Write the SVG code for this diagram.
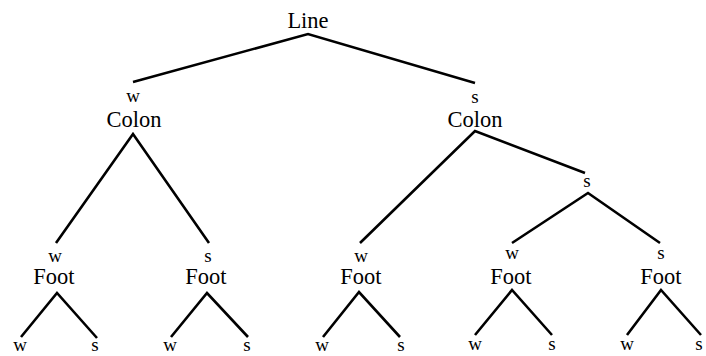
<svg xmlns="http://www.w3.org/2000/svg" width="706" height="356" viewBox="0 0 706 356">
  <style>
    .cat { font-family: "Liberation Serif", "Times New Roman", serif; font-size: 22.5px; fill: #000; text-anchor: middle; }
    .lab { font-family: "Liberation Serif", "Times New Roman", serif; font-size: 19px; fill: #000; text-anchor: middle; }
    .edge { stroke: #000; stroke-width: 2.6; fill: none; stroke-linejoin: miter; }
  </style>
  <rect width="706" height="356" fill="#fff"/>

  <g id="connectors">
    <polyline class="edge" points="133,82 308,34 475,83"/>
    <polyline class="edge" points="56,243 133,134 209,243"/>
    <polyline class="edge" points="360,243 475,131 585,173"/>
    <polyline class="edge" points="512,243 588,193 660,243"/>
    <polyline class="edge" points="21,337 57,293 97,338"/>
    <polyline class="edge" points="171,337 207,293 248,337"/>
    <polyline class="edge" points="323,337 359,292 400,337"/>
    <polyline class="edge" points="475,335 512,290 552,335"/>
    <polyline class="edge" points="627,335 661,290 701,335"/>
  </g>

  <g id="line"><text class="cat" x="308" y="28">Line</text></g>

  <g id="colon-w">
    <text class="lab" x="133" y="102">w</text>
    <text class="cat" x="134" y="127">Colon</text>
  </g>
  <g id="colon-s">
    <text class="lab" x="475" y="103">s</text>
    <text class="cat" x="475" y="127">Colon</text>
  </g>
  <g id="s-branch"><text class="lab" x="587" y="187">s</text></g>

  <g id="foot-1">
    <text class="lab" x="55" y="262">w</text>
    <text class="cat" x="54" y="284">Foot</text>
    <text class="lab" x="20" y="351">w</text>
    <text class="lab" x="95" y="351">s</text>
  </g>
  <g id="foot-2">
    <text class="lab" x="208" y="262">s</text>
    <text class="cat" x="206" y="284">Foot</text>
    <text class="lab" x="170" y="351">w</text>
    <text class="lab" x="247" y="351">s</text>
  </g>
  <g id="foot-3">
    <text class="lab" x="361" y="262">w</text>
    <text class="cat" x="361" y="284">Foot</text>
    <text class="lab" x="322" y="351">w</text>
    <text class="lab" x="401" y="351">s</text>
  </g>
  <g id="foot-4">
    <text class="lab" x="512" y="259">w</text>
    <text class="cat" x="511" y="284">Foot</text>
    <text class="lab" x="475" y="350">w</text>
    <text class="lab" x="552" y="350">s</text>
  </g>
  <g id="foot-5">
    <text class="lab" x="661" y="259">s</text>
    <text class="cat" x="661" y="284">Foot</text>
    <text class="lab" x="627" y="350">w</text>
    <text class="lab" x="699" y="350">s</text>
  </g>
</svg>
